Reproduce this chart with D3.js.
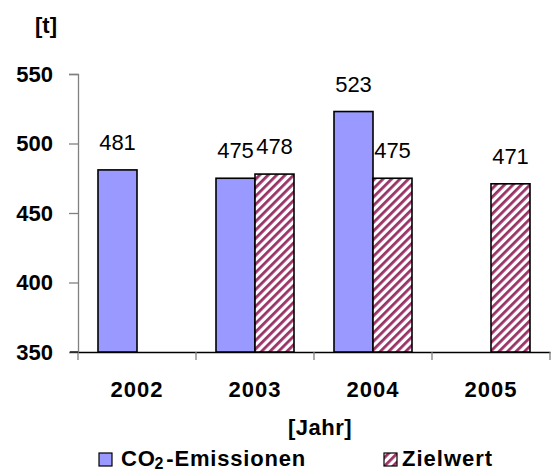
<!DOCTYPE html>
<html><head><meta charset="utf-8">
<script src="https://cdn.jsdelivr.net/npm/d3@7"></script>
<style>body{margin:0;background:#fff;} text{font-family:"Liberation Sans",Arial,sans-serif;}</style>
</head><body>
<svg id="c" width="552" height="474"></svg>
<script>
const years = ["2002","2003","2004","2005"];
const emissions = [481, 475, 523, null];
const targets = [null, 478, 475, 471];
const yTicks = [350, 400, 450, 500, 550];
const seriesNames = ["CO2-Emissionen", "Zielwert"];

const FONT = "'Liberation Sans',Arial,sans-serif";
const svg = d3.select("#c");
const defs = svg.append("defs");
const pat = defs.append("pattern").attr("id","hatch").attr("patternUnits","userSpaceOnUse")
  .attr("width",6).attr("height",6).attr("patternTransform","rotate(45)");
pat.append("rect").attr("width",6).attr("height",6).attr("fill","#fff");
pat.append("rect").attr("width",2.8).attr("height",6).attr("fill","#993366");

const x = d3.scaleBand().domain(years).range([78, 550]);
const y = d3.scaleLinear().domain([350, 550]).range([352, 74]);
const bw = 39;
const inner = d3.scaleBand().domain([0,1]).range([0, bw*2]);
const off = (x.bandwidth() - bw*2)/2;

// y axis
const ya = svg.append("g").attr("transform","translate(78,0)")
  .call(d3.axisLeft(y).tickValues(yTicks).tickSize(9).tickPadding(16));
ya.select(".domain").attr("stroke","#808080").attr("stroke-width",1.3);
ya.selectAll(".tick line").attr("stroke","#808080").attr("stroke-width",1.3);
ya.selectAll(".tick text").attr("font-size",22).attr("font-weight","bold").attr("fill","#000")
  .style("font-family",FONT);

// x axis
const xa = svg.append("g").attr("transform","translate(0,352)")
  .call(d3.axisBottom(x).tickSize(0).tickPadding(29));
xa.select(".domain").attr("stroke","#000").attr("stroke-width",1.3);
xa.selectAll(".tick text").attr("font-size",22).attr("font-weight","bold").attr("fill","#000")
  .attr("letter-spacing",1).style("font-family",FONT);
const bounds = years.map(d=>x(d)).concat([x.range()[1]]);
svg.append("g").selectAll("line").data(bounds).join("line")
  .attr("x1",d=>d).attr("x2",d=>d).attr("y1",352).attr("y2",360)
  .attr("stroke","#808080").attr("stroke-width",1.3);
svg.append("line").attr("x1",70).attr("x2",78).attr("y1",352).attr("y2",352)
  .attr("stroke","#000").attr("stroke-width",1.3);

// bars
const series = [emissions, targets];
const fills = ["#9999FF","url(#hatch)"];
series.forEach((vals, si) => {
  const g = svg.append("g");
  const data = years.map((yr,i)=>({yr, v: vals[i]})).filter(d=>d.v!=null);
  g.selectAll("rect").data(data).join("rect")
    .attr("x", d=>x(d.yr)+off+inner(si))
    .attr("y", d=>y(d.v))
    .attr("width", inner.bandwidth())
    .attr("height", d=>y(350)-y(d.v))
    .attr("fill", fills[si]).attr("stroke","#000").attr("stroke-width",1.6);
  g.selectAll("text").data(data).join("text")
    .attr("x", d=>x(d.yr)+off+inner(si)+inner.bandwidth()/2)
    .attr("y", d=>y(d.v)-20)
    .attr("text-anchor","middle").attr("font-size",22).text(d=>d.v);
});

// axis titles
svg.append("text").attr("x",57).attr("y",33).attr("text-anchor","end")
  .attr("font-size",22).attr("font-weight","bold").text("[t]");
svg.append("text").attr("x",320).attr("y",435).attr("text-anchor","middle")
  .attr("font-size",22).attr("font-weight","bold").attr("letter-spacing",0.5).text("[Jahr]");

// legend
const lg = svg.append("g");
lg.append("rect").attr("x",99).attr("y",453).attr("width",13).attr("height",13)
  .attr("fill","#9999FF").attr("stroke","#000").attr("stroke-width",1.2);
const t1 = lg.append("text").attr("x",121).attr("y",466).attr("font-size",22).attr("font-weight","bold")
  .attr("letter-spacing",0.8);
t1.append("tspan").text("CO");
t1.append("tspan").attr("font-size",16).attr("dy",3).attr("dx",-1).text("2");
t1.append("tspan").attr("dy",-3).attr("dx",2).text("-Emissionen");
lg.append("rect").attr("x",384).attr("y",453).attr("width",13).attr("height",13)
  .attr("fill","url(#hatch)").attr("stroke","#000").attr("stroke-width",1.2);
lg.append("text").attr("x",402).attr("y",466).attr("font-size",22).attr("font-weight","bold")
  .attr("letter-spacing",1).text(seriesNames[1]);
</script>
</body></html>
